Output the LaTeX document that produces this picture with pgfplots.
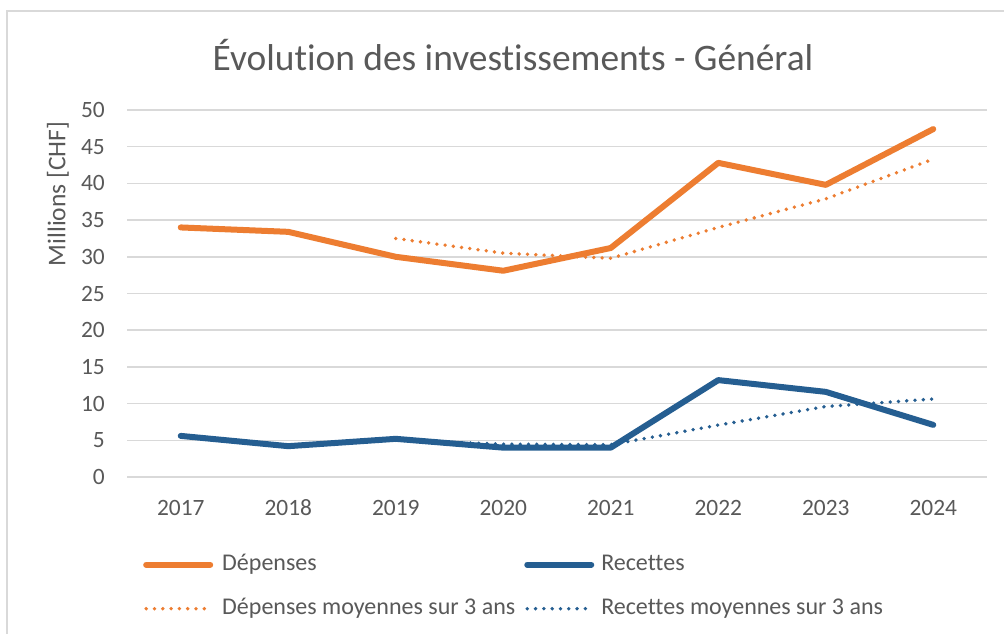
\documentclass[border=0pt]{standalone}
\usepackage{fontspec}
\setmainfont{Carlito}[Ligatures={NoCommon}]
\usepackage{pgfplots}
\pgfplotsset{compat=1.18}
\definecolor{exorange}{HTML}{ED7D31}
\definecolor{exblue}{HTML}{255E91}
\definecolor{txtgray}{HTML}{595959}
\definecolor{gridgray}{HTML}{D9D9D9}
\begin{document}
\begin{tikzpicture}
\useasboundingbox (0,0) rectangle (1004bp,634bp);
\fill[white] (0,0) rectangle (1004bp,634bp);
\draw[gridgray, line width=1.5bp] (7bp,0bp) -- (7bp,623bp) -- (1004bp,623bp);
\begin{axis}[
  at={(127bp,157bp)}, anchor=south west,
  scale only axis, width=860bp, height=367bp,
  xmin=-0.5, xmax=7.5, ymin=0, ymax=50,
  xtick={0,...,7},
  xticklabels={2017,2018,2019,2020,2021,2022,2023,2024},
  ytick={0,5,...,50},
  axis line style={draw=none},
  major tick length=0pt,
  ymajorgrids, grid style={gridgray, line width=1.5bp},
  /pgf/number format/assume math mode=true,
  tick label style={font=\fontsize{23.4bp}{28bp}\selectfont, text=txtgray, inner sep=0pt},
  xticklabel style={anchor=center, yshift=-31bp},
  yticklabel style={anchor=east, xshift=-22bp},
  clip=false,
  legend columns=2,
  legend cell align=left,
  legend image code/.code={\draw[#1] (3bp,0bp) -- (67bp,0bp);},
  legend style={at={(axis description cs:0.0186,-0.2098)}, anchor=north west,
    draw=none, fill=none, inner sep=0pt, row sep=23bp,
    font=\fontsize{24bp}{28bp}\selectfont, text=txtgray,
    nodes={inner sep=0pt, text height=16bp, text depth=5bp},
    /tikz/column 1/.style={column sep=9bp},
    /tikz/column 2/.style={column sep=9bp},
    /tikz/column 3/.style={column sep=7bp}},
]
\addplot[exorange, line width=6bp, line join=round, line cap=round] coordinates {
 (0,34.0) (1,33.4) (2,30.0) (3,28.1) (4,31.2) (5,42.8) (6,39.8) (7,47.4)};
\addlegendentry{Dépenses}
\addplot[exblue, line width=6bp, line join=round, line cap=round] coordinates {
 (0,5.6) (1,4.2) (2,5.2) (3,4.0) (4,4.0) (5,13.2) (6,11.6) (7,7.1)};
\addlegendentry{Recettes}
\addplot[exorange, line width=3.8bp, line cap=round, dash pattern=on 0bp off 8.3bp] coordinates {
 (2,32.5) (3,30.5) (4,29.8) (5,34.0) (6,37.9) (7,43.3)};
\addlegendentry{Dépenses moyennes sur 3 ans}
\addplot[exblue, line width=3.8bp, line cap=round, dash pattern=on 0bp off 8.3bp] coordinates {
 (2,5.0) (3,4.47) (4,4.4) (5,7.07) (6,9.6) (7,10.63)};
\addlegendentry{Recettes moyennes sur 3 ans}
\end{axis}
\node[text=txtgray, font=\fontsize{37.4bp}{44bp}\selectfont, anchor=center] at (513bp,579bp) {Évolution des investissements - Général};
\node[text=txtgray, font=\fontsize{25.5bp}{30bp}\selectfont, rotate=90, anchor=center] at (58bp,440bp) {Millions [CHF]};
\end{tikzpicture}
\end{document}
